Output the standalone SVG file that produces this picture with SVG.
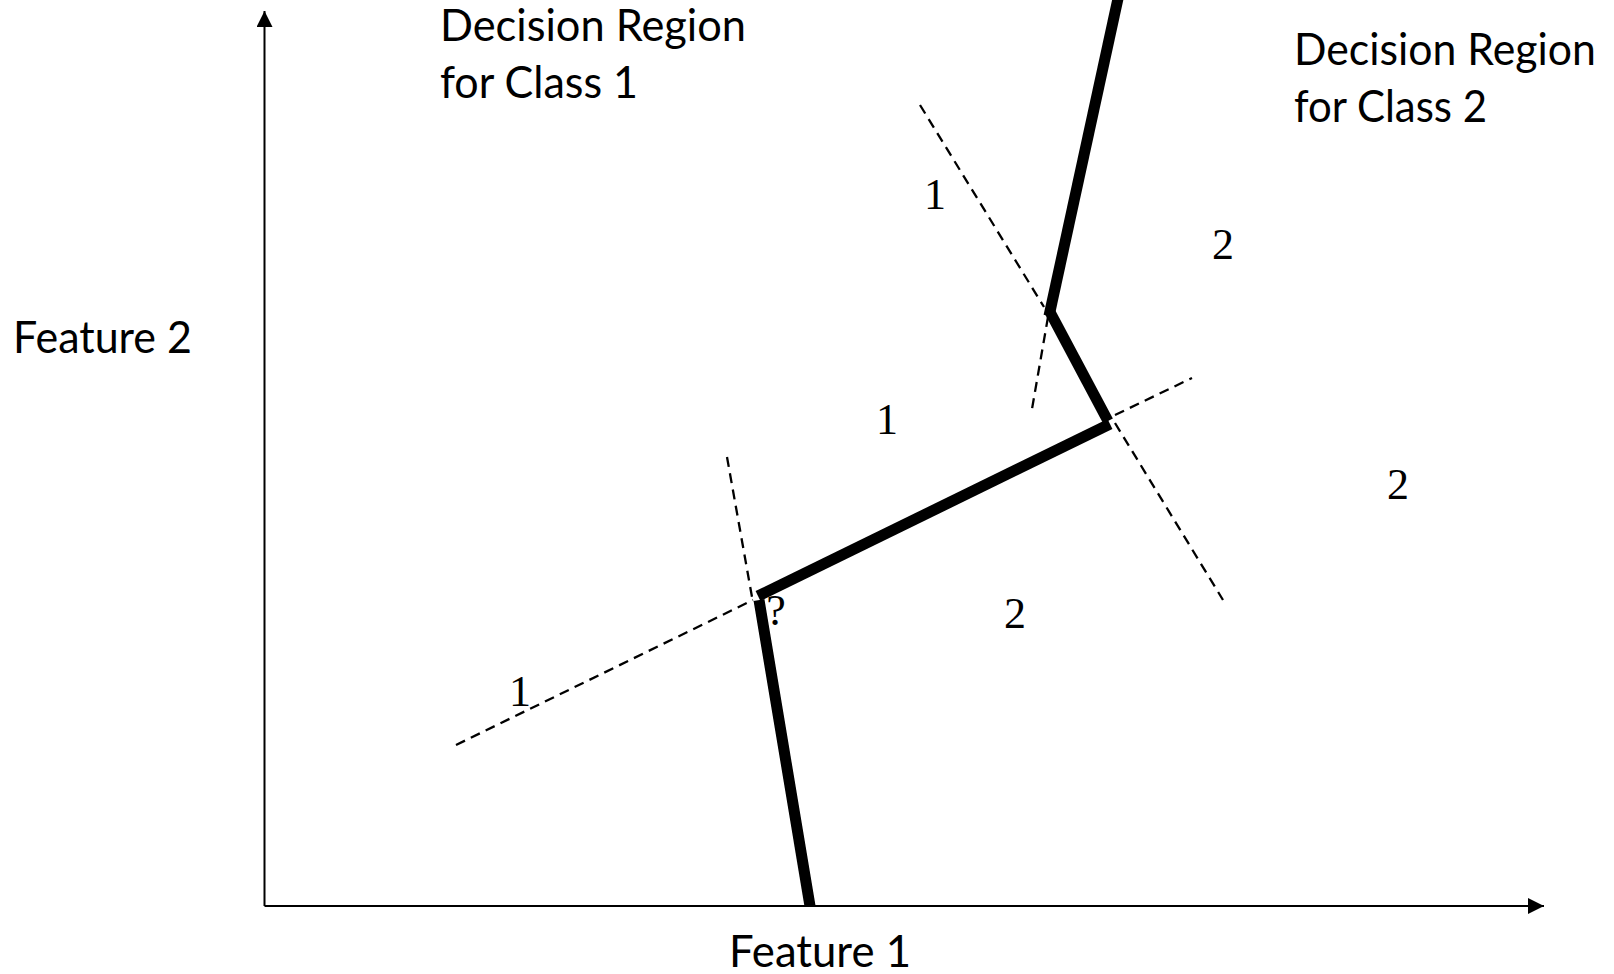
<svg xmlns="http://www.w3.org/2000/svg" width="1614" height="974" viewBox="0 0 1614 974">
  <style>
    .axis { stroke: #000; stroke-width: 2; fill: none; }
    .bisector { stroke: #000; stroke-width: 2.3; stroke-dasharray: 10 6.5; fill: none; }
    .boundary { stroke: #000; stroke-width: 11; stroke-linecap: butt; fill: none; }
    .label { font-family: Lato, "Open Sans", sans-serif; font-size: 44px; fill: #000; }
    .cls { font-family: "Liberation Serif", "Times New Roman", serif; font-size: 44px; fill: #000; text-anchor: middle; }
  </style>
  <defs>
    <marker id="arrow" viewBox="0 0 16 16" refX="16" refY="8" markerWidth="16" markerHeight="16" markerUnits="userSpaceOnUse" orient="auto">
      <path d="M0,0 L16,8 L0,16 Z" fill="#000"/>
    </marker>
  </defs>
  <rect width="1614" height="974" fill="#fff"/>

  <!-- feature axes -->
  <g id="axes">
    <line class="axis" x1="264.5" y1="906" x2="264.5" y2="11" marker-end="url(#arrow)"/>
    <line class="axis" x1="264.5" y1="906" x2="1544" y2="906" marker-end="url(#arrow)"/>
  </g>

  <!-- axis and region captions -->
  <g id="axis-labels">
    <text id="feature1" class="label" x="729" y="967" textLength="182" lengthAdjust="spacingAndGlyphs">Feature 1</text>
    <text id="feature2" class="label" x="13" y="353" textLength="179" lengthAdjust="spacingAndGlyphs">Feature 2</text>
  </g>
  <g id="region1-caption">
    <text class="label" x="440" y="41" textLength="306" lengthAdjust="spacingAndGlyphs">Decision Region</text>
    <text class="label" x="440" y="97.5" textLength="198" lengthAdjust="spacingAndGlyphs">for Class 1</text>
  </g>
  <g id="region2-caption">
    <text class="label" x="1294" y="65" textLength="302" lengthAdjust="spacingAndGlyphs">Decision Region</text>
    <text class="label" x="1294" y="121.5" textLength="193" lengthAdjust="spacingAndGlyphs">for Class 2</text>
  </g>

  <!-- perpendicular bisectors between neighbouring samples -->
  <g id="connectors">
    <line class="bisector" x1="456" y1="745" x2="753" y2="600"/>
    <line class="bisector" x1="727" y1="457" x2="752" y2="597"/>
    <line class="bisector" x1="920" y1="105" x2="1044" y2="307"/>
    <line class="bisector" x1="1048" y1="317" x2="1032" y2="409"/>
    <line class="bisector" x1="1115" y1="415" x2="1192" y2="378"/>
    <line class="bisector" x1="1115" y1="423" x2="1223" y2="600"/>
  </g>

  <!-- class samples -->
  <g id="samples">
    <text id="s1a" class="cls" x="935" y="209">1</text>
    <text id="s2a" class="cls" x="1223" y="259">2</text>
    <text id="s1b" class="cls" x="887" y="434">1</text>
    <text id="s2b" class="cls" x="1398" y="499">2</text>
    <text id="s2c" class="cls" x="1015" y="628">2</text>
    <text id="s1c" class="cls" x="520" y="706">1</text>
    <text id="unknown" class="cls" x="776" y="625">?</text>
  </g>

  <!-- piecewise decision boundary -->
  <g id="boundary">
    <line class="boundary" x1="810" y1="906" x2="759" y2="600"/>
    <line class="boundary" x1="758" y1="596" x2="1110" y2="424"/>
    <line class="boundary" x1="1108" y1="421" x2="1050" y2="312"/>
    <line class="boundary" x1="1049" y1="316" x2="1119" y2="-6"/>
  </g>
</svg>
